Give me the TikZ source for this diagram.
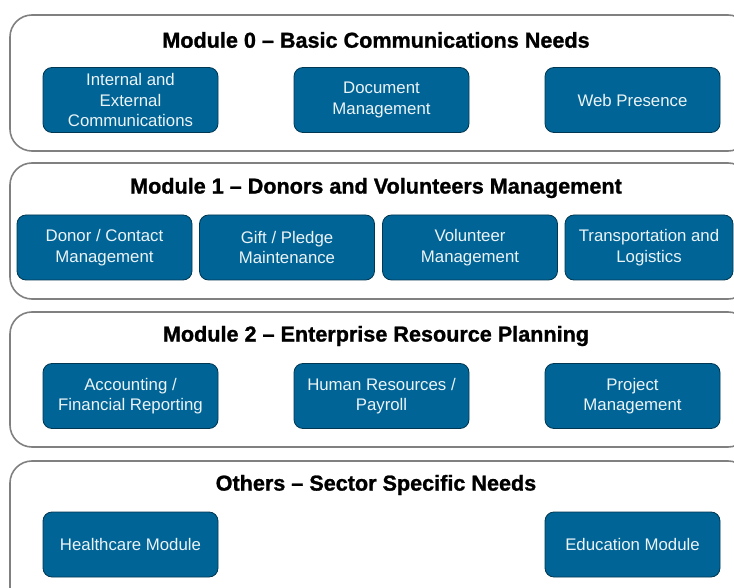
\documentclass[tikz,border=0pt]{standalone}
\usepackage{fontspec}
\setmainfont{Liberation Sans}
\newfontfamily\heavyfont{Liberation Sans}[Ligatures=TeX, BoldFont={Liberation Sans Bold}, BoldFeatures={FakeBold=1.2}]
\usepackage{tikz}
\usetikzlibrary{positioning, calc}
\definecolor{modblue}{RGB}{0,100,150}
\definecolor{panelgray}{RGB}{128,128,128}
\tikzset{>=stealth,
	panel/.style={draw=panelgray, line width=1.6pt, rounded corners=22pt},
	modtitle/.style={font=\heavyfont\fontsize{21.6}{24}\selectfont\bfseries, inner sep=0pt},
	modbox/.style={fill=modblue, draw=modblue!55!black, line width=0.8pt, rounded corners=9pt,
		minimum width=175pt, minimum height=65pt, inner sep=0pt, align=center,
		text=white!92!modblue, font=\fontsize{16.8}{20.5}\selectfont}}

\begin{document}
\begin{tikzpicture}[x=1pt, y=-1pt]

				\useasboundingbox (0,0) rectangle (734,588);
				\clip (0,0) rectangle (734,588);

				% panels
				\draw [panel] (10,15) rectangle (750,151);
				\draw [panel] (10,163) rectangle (750,299);
				\draw [panel] (10,312) rectangle (750,447);
				\draw [panel] (10,461) rectangle (750,620);

				\node [modtitle] (title0) at (376,40) {Module 0 -- Basic Communications Needs};
				\node [modtitle] (title1) at (376,188) {Module 1 -- Donors and Volunteers Management};
				\node [modtitle] (title2) at (376,336) {Module 2 -- Enterprise Resource Planning};
				\node [modtitle] (title3) at (376,485) {Others -- Sector Specific Needs};

				% module 0
				\node [modbox] (intext) at (130.5,100) {Internal and\\External\\Communications};
				\node [modbox] (docmgmt) at (381.5,100) {Document\\Management};
				\node [modbox] (webpres) at (632.5,100) {Web Presence};

				% module 1
				\node [modbox] (donor) at (104.5,247.5) {Donor / Contact\\Management};
				\node [modbox] (gift) at (287,247.5) {Gift / Pledge\\Maintenance};
				\node [modbox] (volunteer) at (470,247.5) {Volunteer\\Management};
				\node [modbox, minimum width=168pt] (transport) at (649,247.5) {Transportation and\\Logistics};

				% module 2
				\node [modbox] (accounting) at (130.5,396) {Accounting /\\Financial Reporting};
				\node [modbox] (hr) at (381.5,396) {Human Resources /\\Payroll};
				\node [modbox] (project) at (632.5,396) {Project\\Management};

				% others
				\node [modbox] (health) at (130.5,544.5) {Healthcare Module};
				\node [modbox] (education) at (632.5,544.5) {Education Module};

\end{tikzpicture}
\end{document}
